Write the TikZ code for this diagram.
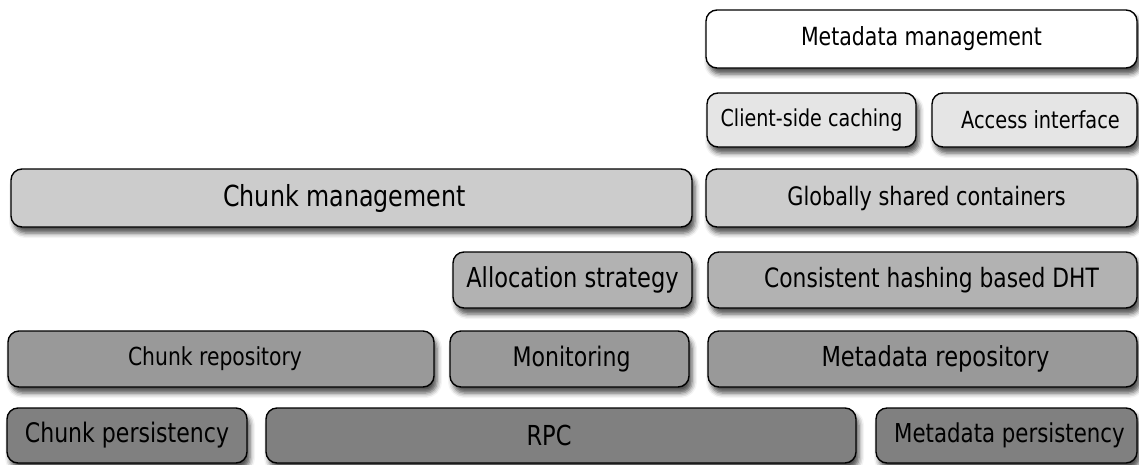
\documentclass[tikz,border=0pt]{standalone}
\usepackage{fontspec}
\setmainfont{DejaVu Sans}[FakeStretch=0.82]
\usetikzlibrary{shadows.blur}

\begin{document}
\begin{tikzpicture}[x=1pt, y=-1pt,
    layer/.style={draw, line width=1.4pt, rounded corners=11pt, inner sep=0pt,
      blur shadow={shadow xshift=3pt, shadow yshift=-6pt, shadow blur radius=5pt, shadow opacity=70}},
    txt/.style={font=\fontsize{#1}{#1}\selectfont},
    nudge/.style={execute at begin node=\hspace*{#1}}]
          \useasboundingbox (0,0) rectangle (1139,464);
          % metadata side
          \node [layer, txt=25, fill=white, minimum width=431pt, minimum height=58pt] (mdmgmt) at (921.5,39) {Metadata management};
          \node [layer, txt=23.3, fill=black!10, minimum width=209pt, minimum height=54pt] (caching) at (811.5,120) {Client-side caching};
          \node [layer, txt=23.6, nudge=12pt, fill=black!10, minimum width=205pt, minimum height=54pt] (access) at (1034.5,120) {Access interface};
          \node [layer, txt=25.4, nudge=10pt, fill=black!20, minimum width=431pt, minimum height=58pt] (containers) at (921.5,198) {Globally shared containers};
          \node [layer, txt=26.6, nudge=18pt, fill=black!30, minimum width=429pt, minimum height=56pt] (dht) at (922.5,280) {Consistent hashing based DHT};
          \node [layer, txt=27.5, nudge=26pt, fill=black!40, minimum width=429pt, minimum height=56pt] (mdrepo) at (922.5,359) {Metadata repository};
          \node [layer, txt=26, nudge=6pt, fill=black!50, minimum width=261pt, minimum height=55pt] (mdpers) at (1006.5,435.5) {Metadata persistency};
          % chunk side
          \node [layer, txt=29, nudge=-14pt, fill=black!20, minimum width=681pt, minimum height=58pt] (chunkmgmt) at (351.5,198) {Chunk management};
          \node [layer, txt=27.5, fill=black!30, minimum width=239pt, minimum height=56pt] (alloc) at (572.5,280) {Allocation strategy};
          \node [layer, txt=24.8, nudge=-12pt, fill=black!40, minimum width=426pt, minimum height=56pt] (chunkrepo) at (221,359) {Chunk repository};
          \node [layer, txt=26.9, nudge=4pt, fill=black!40, minimum width=239pt, minimum height=56pt] (monitoring) at (569.5,359) {Monitoring};
          \node [layer, txt=26.9, fill=black!50, minimum width=240pt, minimum height=55pt] (chunkpers) at (127,435.5) {Chunk persistency};
          \node [layer, txt=27.5, nudge=-24pt, fill=black!50, minimum width=590pt, minimum height=55pt] (rpc) at (561,435.5) {RPC};
        \end{tikzpicture}
\end{document}
